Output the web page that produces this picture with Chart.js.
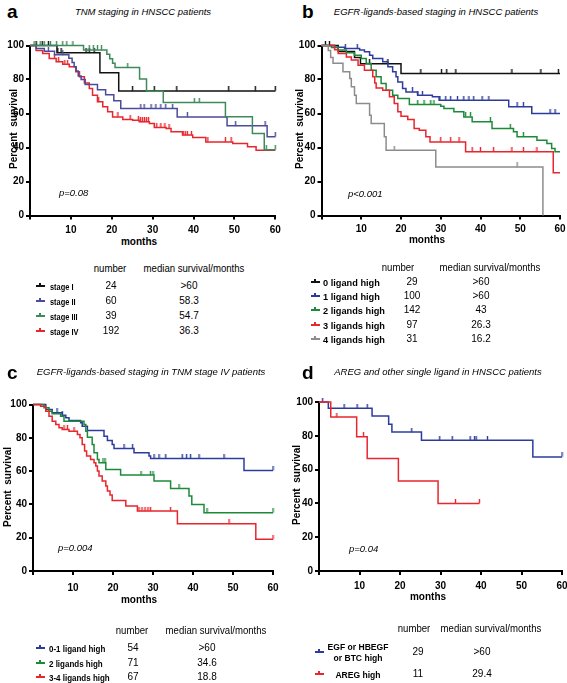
<!DOCTYPE html>
<html>
<head>
<meta charset="utf-8">
<script src="https://cdn.jsdelivr.net/npm/chart.js@4.4.1/dist/chart.umd.min.js"></script>
<style>
  body { margin: 0; width: 567px; height: 683px; position: relative; overflow: hidden; background: #fff;
         font-family: "Liberation Sans", Arial, sans-serif; color: #000; }
  canvas { position: absolute; }
  .t { position: absolute; white-space: pre; line-height: 1; font-size: 10px; }
  .b { font-weight: bold; }
  .i { font-style: italic; font-size: 9.5px; }
  .lab { font-weight: bold; font-size: 9.5px; line-height: 11px; }
  .letter { font-size: 19px; font-weight: bold; font-style: normal; }
  .mk { position: absolute; width: 9px; height: 2px; }
  .mk::after { content: ''; position: absolute; left: 3.5px; top: -2.5px; width: 2px; height: 3px; background: inherit; }
</style>
</head>
<body>
<canvas id="chartA"></canvas>
<canvas id="chartB"></canvas>
<canvas id="chartC"></canvas>
<canvas id="chartD"></canvas>
<script>
// ---- panel a : TNM staging ----
const aTimeI = [0, 6.6, 17.1, 21.7, 60]
const aSurvI = [100, 95.8, 84, 73.3, 73.3]
const aCensI = [1.5, 3, 4.5, 6.8, 7.6, 13.7, 14.5, 15.7, 25.1, 30.4, 35.9, 48.6, 55.1, 60]

const aTimeII = [0, 1.5, 3.5, 6, 9.5, 10.3, 10.8, 11.3, 11.8, 12.5, 13.5, 16.5, 18.5, 20.5, 22.2, 36, 48.2, 58, 60]
const aSurvII = [100, 98.3, 96.6, 94.5, 92.5, 90, 87.5, 85, 82, 80, 77, 74, 71, 67.5, 63, 58, 52.8, 46.3, 46.3]
const aCensII = [4.5, 8, 27.1, 27.9, 29.6, 30.8, 32, 33.2, 34.9, 38.5, 50.3, 57.5, 60]

const aTimeIII = [0, 13.1, 18.8, 19.5, 20.2, 20.8, 26.8, 28.5, 32.6, 47.8, 54.4, 57.3, 60]
const aSurvIII = [100, 97.4, 94.8, 92.2, 89.6, 87, 80.3, 73.1, 66.5, 58.1, 48.3, 38.7, 38.7]
const aCensIII = [1, 2.5, 3.5, 5, 6.5, 8, 9, 10.5, 14.5, 15.5, 16.5, 17.5, 23.9, 40.2, 41.4, 57.8, 60]

const aTimeIV = [0, 1.5, 3.1, 4.7, 6.4, 8, 9.6, 11.2, 12.1, 13.3, 14.5, 15.3, 16.5, 17.8, 19, 20.2, 22.7, 25.1, 26.7, 29.2, 30.4, 33.3, 34.5, 37.3, 39.8, 43, 49.6, 53.2, 55.3, 60]
const aSurvIV = [100, 97, 95.3, 92.4, 90.4, 89, 87.5, 84.5, 81.6, 78, 74.7, 70.8, 66.9, 63.9, 61, 58, 56.5, 56, 55.1, 54.1, 51.8, 51.2, 49.2, 47.3, 45.9, 43.3, 42.4, 40.4, 38.4, 38.4]
const aCensIV = [6, 7, 8.5, 9.2, 16.8, 21.5, 24.5, 26.5, 27, 27.5, 28, 28.5, 29, 31, 32, 33, 34, 37.5, 38, 38.5, 39.5, 43.5, 47.8, 49.2]

const aGroups = ['stage I', 'stage II', 'stage III', 'stage IV']
const aNumbers = ['24', '60', '39', '192']
const aMedians = ['>60', '58.3', '54.7', '36.3']

// ---- panel b : EGFR ligands, all patients ----
const bTime0 = [0, 4.2, 8.3, 9.8, 20, 60]
const bSurv0 = [100, 96.5, 93, 89.2, 83.6, 83.6]
const bCens0 = [1, 2, 12.1, 16.7, 25, 30.2, 31.5, 33.8, 47.9, 55.2, 59.6]

const bTime1 = [0, 3.3, 5.8, 9.6, 10.8, 12.1, 12.9, 15.4, 16.7, 17.9, 18.75, 19.2, 20.4, 21.25, 24.2, 27.9, 29.6, 47.1, 52.9, 60]
const bSurv1 = [100, 99, 98.2, 97.3, 96.3, 94.3, 92.4, 90.4, 87.5, 84.5, 81.6, 78.6, 74.7, 72.7, 70.8, 69.8, 67.8, 63.9, 60, 60]
const bCens1 = [6, 9, 22.9, 24.2, 25.4, 29.8, 31.25, 32.5, 34.2, 35.8, 37.1, 38.3, 40.4, 42.1, 49.2, 50.8, 57.5, 58.75]

const bTime2 = [0, 2.5, 4.2, 6.25, 8.3, 10, 11.25, 12.5, 13.75, 15, 16.25, 17.9, 19.2, 22.1, 30, 30.8, 33.3, 35.8, 37.9, 42.9, 48.3, 49.2, 54.2, 56.7, 57.9, 58.75, 60]
const bSurv2 = [100, 98.8, 97.3, 95.7, 94.3, 92.4, 89.4, 85.5, 81.6, 77.6, 73.7, 70.8, 68.8, 65.3, 64.3, 62.9, 61, 58, 55.1, 51.2, 49.2, 46.3, 44.3, 42.4, 39.4, 37.5, 37.5]
const bCens2 = [24.2, 25.8, 27.5, 28.3, 36.25, 37.5, 42.5, 47.5, 50.8]

const bTime3 = [0, 3.3, 4.2, 6.25, 7.5, 9.2, 10.8, 12.9, 13.4, 13.75, 15.4, 17.1, 18.3, 19.2, 20, 21.7, 23.3, 24.6, 26.25, 27.3, 36.25, 58.3, 60]
const bSurv3 = [100, 97.5, 95.3, 93.3, 91.4, 88.4, 85.5, 81.6, 78, 75, 73.7, 69.8, 65.9, 61, 58.4, 56.5, 51.2, 50.2, 46.3, 43.3, 37.5, 25.1, 25.1]
const bCens3 = [30, 32.5, 34.6, 37.9, 40, 43.3, 47.9, 50.8, 54.2]

const bTime4 = [0, 1.7, 2.3, 2.9, 5.4, 7.1, 7.5, 8.3, 8.75, 12.1, 12.5, 15.8, 16.25, 28.75, 55.7]
const bSurv4 = [100, 97, 93, 89.5, 84.5, 80.6, 75.7, 70.8, 65.9, 59, 54.1, 46.3, 38.4, 28.6, 0]
const bCens4 = [18.3, 49.2]

const bGroups = ['0 ligand high', '1 ligand high', '2 ligands high', '3 ligands high', '4 ligands high']
const bNumbers = ['29', '100', '142', '97', '31']
const bMedians = ['>60', '>60', '43', '26.3', '16.2']

// ---- panel c : EGFR ligands, TNM stage IV ----
const cTime1 = [0, 3.2, 4.8, 7.3, 8.2, 9, 11.9, 12.3, 13.6, 17.75, 18.6, 19.8, 20.25, 25.25, 29, 29.4, 52.75, 60]
const cSurv1 = [100, 97, 95, 93.6, 92, 90.4, 89, 87, 84.4, 81, 78.4, 76, 73.6, 71, 69, 67.6, 60.4, 60.4]
const cCens1 = [6, 7.3, 22.75, 24.9, 30.25, 31.5, 33.2, 37.3, 38.4, 39.4, 41.5, 47.75, 60]

const cTime2 = [0, 2.75, 4, 4.8, 6.9, 7.75, 12.75, 13.2, 13.6, 14.8, 15.25, 16.1, 16.5, 18.2, 21.9, 30.25, 34.4, 39, 39.7, 42.75, 60]
const cSurv2 = [100, 98, 96, 94.4, 93, 90, 88, 84, 80.4, 76, 71, 67, 65, 61, 57.6, 54, 49.6, 45, 40, 35, 35]
const cCens2 = [17.5, 18, 27, 29.4, 30, 36.5, 43.5, 60]

const cTime3 = [0, 1.9, 3.2, 4, 4.8, 5.7, 6.5, 7.3, 9, 11.1, 11.75, 12.3, 12.9, 13.4, 14.4, 15.25, 15.7, 16.1, 16.5, 17.3, 18.2, 18.6, 19.25, 19.8, 23.2, 26.1, 36.1, 55.7, 60]
const cSurv3 = [100, 99, 96, 93, 90, 88, 86, 85, 84, 82, 80, 76, 72, 69, 67, 65, 63, 60, 57, 54, 51, 48, 45.6, 42.4, 39, 36, 28.4, 19, 19]
const cCens3 = [7.75, 8.6, 10.25, 26.5, 27.25, 28, 28.75, 29.4, 34.4, 49, 60]

const cGroups = ['0-1 ligand high', '2 ligands high', '3-4 ligands high']
const cNumbers = ['54', '71', '67']
const cMedians = ['>60', '34.6', '18.8']

// ---- panel d : AREG vs other single ligand ----
const dTime1 = [0, 2.3, 13.1, 17.2, 18, 25.3, 52.8, 60]
const dSurv1 = [100, 96.3, 91.7, 86.8, 82.2, 77.3, 67.5, 67.5]
const dCens1 = [0.9, 6.2, 9.4, 11.9, 22.9, 29.8, 32.9, 37.3, 38.4, 38.8, 41.6, 60]

const dTime2 = [0, 2.9, 9.3, 11.9, 19.6, 29.4, 39.6]
const dSurv2 = [100, 91.1, 79.5, 66.5, 53.3, 40, 40]
const dCens2 = [4.4, 11, 33.7, 39.6]

const dGroups = ['EGF or HBEGF\nor BTC high', 'AREG high']
const dNumbers = ['29', '11']
const dMedians = ['>60', '29.4']

const xTickStep = 10
const yTickStep = 20

const BLACK = '#111111', NAVY = '#2d3c9c', PURPLE = '#4b4b9b', GREEN = '#1d8a3a',
      SAGE = '#3f8a5a', RED = '#e8262d', GREY = '#8c8c8c'

// survival of a step curve at time t
const survAt = (times, surv, t) => {
    let v = surv[0]
    times.forEach((tt, i) => { if (tt <= t) v = surv[i] })
    return v
}

// small upward censor tick, one per colour
const tickCache = {}
const tickImg = (color) => {
    if (tickCache[color]) return tickCache[color]
    const c = document.createElement('canvas')
    c.width = 3; c.height = 9
    const g = c.getContext('2d')
    g.fillStyle = color
    g.fillRect(0.8, 0, 1.4, 4.5)
    tickCache[color] = c
    return c
}

const tickFont = { family: 'Liberation Sans', size: 10, weight: 'bold' }

function survChart(id, box, area, series) {
    const cv = document.getElementById(id)
    cv.width = box.w; cv.height = box.h
    cv.style.left = box.x + 'px'; cv.style.top = box.y + 'px'
    const datasets = []
    series.forEach(s => {
        datasets.push({
            type: 'line', data: s.t.map((t, i) => ({ x: t, y: s.s[i] })),
            stepped: 'before', borderColor: s.c, borderWidth: 1.5, pointRadius: 0, fill: false, clip: 6
        })
        datasets.push({
            type: 'scatter', data: s.cens.map(t => ({ x: t, y: survAt(s.t, s.s, t) })),
            pointStyle: tickImg(s.c), pointRadius: 3, clip: 8
        })
    })
    new Chart(cv, {
        type: 'line',
        data: { datasets },
        options: {
            responsive: false, animation: false, devicePixelRatio: 1,
            layout: { padding: { left: 0, top: area.y100 - box.y, right: box.x + box.w - area.x60, bottom: 0 } },
            plugins: { legend: { display: false }, tooltip: { enabled: false } },
            scales: {
                x: {
                    type: 'linear', min: 0, max: 60,
                    ticks: { stepSize: xTickStep, autoSkip: false, maxRotation: 0, padding: area.xPad, color: '#000', font: tickFont,
                             callback: v => v === 0 ? '' : v },
                    grid: { drawOnChartArea: false, color: '#000', lineWidth: 2, tickLength: 4 },
                    border: { color: '#000', width: 2 },
                    afterFit: sc => { sc.height = box.y + box.h - area.y0; sc.paddingLeft = 0; sc.paddingRight = 0 }
                },
                y: {
                    min: 0, max: 100,
                    ticks: { stepSize: yTickStep, padding: 2, color: '#000', font: tickFont },
                    grid: { drawOnChartArea: false, color: '#000', lineWidth: 2, tickLength: 4 },
                    border: { color: '#000', width: 2 },
                    afterFit: sc => { sc.width = area.x0 - box.x; sc.paddingTop = 0; sc.paddingBottom = 0 }
                }
            }
        }
    })
}

// text helper: align 'l' = left edge at x, 'r' = rotated, else centred
function put(text, x, y, cls, align, sx) {
    const d = document.createElement('div')
    d.className = 't ' + (cls || '')
    d.textContent = text
    d.style.left = x + 'px'; d.style.top = y + 'px'
    const sc = sx ? ` scaleX(${sx})` : ''
    if (align === 'l') { d.style.transform = 'translate(0,-50%)' + sc; d.style.transformOrigin = '0 50%' }
    else if (align === 'r') d.style.transform = 'translate(-50%,-50%) rotate(-90deg)'
    else { d.style.transform = 'translate(-50%,-50%)' + sc; d.style.textAlign = 'center' }
    document.body.appendChild(d)
    return d
}

function marker(x, y, color) {
    const d = document.createElement('div')
    d.className = 'mk'
    d.style.background = color
    d.style.left = (x - 4.5) + 'px'; d.style.top = (y - 1) + 'px'
    document.body.appendChild(d)
}

function table(t) {
    put('number', t.numHX, t.hy, 'h', 'c', 0.96)
    put('median survival/months', t.medHX, t.hy, 'h', 'c', 0.96)
    t.rows.forEach((y, i) => {
        marker(t.mkX, y, t.colors[i])
        put(t.groups[i], t.lblX, y, 'lab', t.lblAlign, t.sx)
        put(t.numbers[i], t.numX, y)
        put(t.medians[i], t.medX, y)
    })
}

// ---- panel a ----
survChart('chartA', { x: 0, y: 36, w: 285, h: 200 }, { x0: 30, x60: 275.3, y100: 45.5, y0: 215.5, xPad: 5 }, [
    { t: aTimeIII, s: aSurvIII, cens: aCensIII, c: SAGE },
    { t: aTimeII, s: aSurvII, cens: aCensII, c: PURPLE },
    { t: aTimeIV, s: aSurvIV, cens: aCensIV, c: RED },
    { t: aTimeI, s: aSurvI, cens: aCensI, c: BLACK }
])
put('a', 7, 11, 'letter', 'l')
put('TNM staging in HNSCC patients', 143, 12, 'i')
put('Percent  survival', 14, 129, 'b', 'r')
put('months', 139, 242, 'b')
put('p=0.08', 59, 193, 'i', 'l')
table({ hy: 269, numHX: 110, medHX: 194, rows: [286, 301, 316, 331], mkX: 40, lblX: 50, lblAlign: 'l', sx: 0.78,
        numX: 111, medX: 189, groups: aGroups, numbers: aNumbers, medians: aMedians,
        colors: [BLACK, PURPLE, SAGE, RED] })

// ---- panel b ----
survChart('chartB', { x: 290, y: 36, w: 277, h: 200 }, { x0: 321.5, x60: 560, y100: 45.5, y0: 215.5, xPad: 4 }, [
    { t: bTime4, s: bSurv4, cens: bCens4, c: GREY },
    { t: bTime3, s: bSurv3, cens: bCens3, c: RED },
    { t: bTime2, s: bSurv2, cens: bCens2, c: GREEN },
    { t: bTime1, s: bSurv1, cens: bCens1, c: NAVY },
    { t: bTime0, s: bSurv0, cens: bCens0, c: BLACK }
])
put('b', 302, 11, 'letter', 'l')
put('EGFR-ligands-based staging in HNSCC patients', 436, 12, 'i')
put('Percent  survival', 300, 129, 'b', 'r')
put('months', 427, 240, 'b')
put('p<0.001', 348, 194, 'i', 'l')
table({ hy: 268, numHX: 398, medHX: 490, rows: [282, 296, 310, 325, 339], mkX: 315, lblX: 323, lblAlign: 'l', sx: 0.97,
        numX: 412, medX: 481, groups: bGroups, numbers: bNumbers, medians: bMedians,
        colors: [BLACK, NAVY, GREEN, RED, GREY] })

// ---- panel c ----
survChart('chartC', { x: 0, y: 395, w: 285, h: 205 }, { x0: 33, x60: 273, y100: 404.5, y0: 571, xPad: 7 }, [
    { t: cTime3, s: cSurv3, cens: cCens3, c: RED },
    { t: cTime2, s: cSurv2, cens: cCens2, c: GREEN },
    { t: cTime1, s: cSurv1, cens: cCens1, c: NAVY }
])
put('c', 7, 372, 'letter', 'l')
put('EGFR-ligands-based staging in TNM stage IV patients', 151, 372, 'i')
put('Percent  survival', 8, 487, 'b', 'r')
put('months', 139, 600, 'b')
put('p=0.004', 58, 548, 'i', 'l')
table({ hy: 631, numHX: 132, medHX: 216, rows: [648, 663, 677], mkX: 40, lblX: 49, lblAlign: 'l', sx: 0.84,
        numX: 133, medX: 207, groups: cGroups, numbers: cNumbers, medians: cMedians,
        colors: [NAVY, GREEN, RED] })

// ---- panel d ----
survChart('chartD', { x: 290, y: 392, w: 277, h: 208 }, { x0: 319, x60: 564, y100: 402, y0: 571, xPad: 5 }, [
    { t: dTime2, s: dSurv2, cens: dCens2, c: RED },
    { t: dTime1, s: dSurv1, cens: dCens1, c: NAVY }
])
put('d', 302, 372, 'letter', 'l')
put('AREG and other single ligand in HNSCC patients', 438, 372, 'i')
put('Percent  survival', 297, 485, 'b', 'r')
put('months', 428, 597, 'b')
put('p=0.04', 349, 549, 'i', 'l')
table({ hy: 629, numHX: 414, medHX: 491, rows: [652, 674], mkX: 319, lblX: 358, lblAlign: 'c', sx: 0.9,
        numX: 418, medX: 482, groups: dGroups, numbers: dNumbers, medians: dMedians,
        colors: [NAVY, RED] })
</script>
</body>
</html>
